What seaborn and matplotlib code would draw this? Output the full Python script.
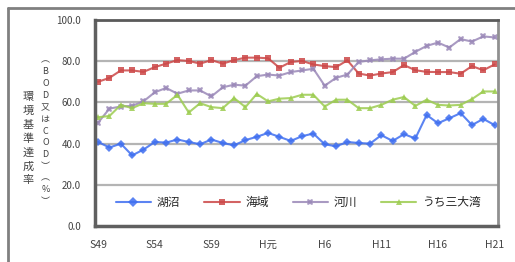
import numpy as np
import pandas as pd
import matplotlib
matplotlib.use("Agg")
import matplotlib.pyplot as plt
import seaborn as sns
from matplotlib.lines import Line2D

# ── Data (環境基準達成率, S49–H21) ────────────────────────────────────────────
years = ["S49", "S50", "S51", "S52", "S53", "S54", "S55", "S56", "S57", "S58",
         "S59", "S60", "S61", "S62", "S63", "H元", "H2", "H3", "H4", "H5",
         "H6", "H7", "H8", "H9", "H10", "H11", "H12", "H13", "H14", "H15",
         "H16", "H17", "H18", "H19", "H20", "H21"]
tick_labels = ["S49", "S54", "S59", "H元", "H6", "H11", "H16", "H21"]

lakes = [40.8, 38.1, 40.0, 34.3, 37.1, 40.8, 40.5, 42.0, 40.8, 39.7,
         42.0, 40.3, 39.2, 41.7, 43.3, 45.2, 43.3, 41.3, 43.6, 44.9,
         39.7, 38.7, 40.8, 40.3, 40.0, 44.1, 41.3, 44.6, 42.5, 53.9,
         49.9, 52.3, 54.8, 49.0, 52.0, 49.0]
sea = [70.0, 71.9, 75.5, 75.5, 74.8, 77.1, 78.8, 80.5, 80.1, 78.8,
       80.5, 78.8, 80.5, 81.7, 81.7, 81.4, 76.8, 79.6, 80.1, 78.4,
       77.6, 77.1, 80.4, 74.0, 73.0, 74.0, 74.7, 78.1, 75.6, 74.8,
       74.7, 74.7, 73.9, 77.6, 75.6, 78.4]
rivers = [50.2, 57.0, 58.0, 58.3, 60.5, 64.9, 67.0, 64.2, 65.8, 65.8,
          62.9, 67.3, 68.6, 68.1, 72.7, 73.5, 73.0, 74.7, 75.5, 76.3,
          68.1, 71.9, 73.5, 79.6, 80.4, 80.9, 81.2, 81.2, 84.5, 87.4,
          89.0, 86.6, 90.7, 89.5, 92.0, 91.5]
bays = [52.8, 53.4, 58.8, 57.2, 59.6, 59.3, 59.3, 63.7, 55.1, 59.6,
        57.7, 57.2, 62.1, 57.7, 64.1, 60.5, 61.8, 62.1, 63.7, 63.7,
        58.0, 61.3, 61.3, 57.2, 57.2, 58.8, 61.3, 62.6, 58.3, 61.3,
        58.8, 58.5, 58.8, 61.6, 65.3, 65.3]

series_names = ["湖沼", "海域", "河川", "うち三大湾"]
colors = {"湖沼": "#3f6ff0", "海域": "#cc4848", "河川": "#9a88b8", "うち三大湾": "#9ccc50"}
markers = {"湖沼": "D", "海域": "s", "河川": "X", "うち三大湾": "^"}

df = pd.DataFrame({"idx": np.arange(len(years)), "湖沼": lakes, "海域": sea,
                   "河川": rivers, "うち三大湾": bays})
long_df = df.melt(id_vars="idx", var_name="series", value_name="rate")

# ── Plot ──────────────────────────────────────────────────────────────────────
sns.set_style("white")
plt.rcParams["font.family"] = ["Noto Sans CJK JP", "DejaVu Sans"]

fig = plt.figure(figsize=(5.15, 2.62), dpi=100)
ax = fig.add_axes([0.184, 0.137, 0.783, 0.787])

sns.lineplot(data=long_df, x="idx", y="rate", hue="series", style="series",
             hue_order=series_names, style_order=series_names,
             palette=colors, markers=markers, dashes=False,
             linewidth=1.5, markersize=4.5, markeredgewidth=0, ax=ax, legend=False)
for ln in ax.get_lines():
    ln.set_alpha(0.85)

ax.set_xlim(-0.3, len(years) - 0.7)
ax.set_ylim(0, 100)
ax.set_yticks([0, 20, 40, 60, 80, 100])
ax.set_yticklabels([f"{v:.1f}" for v in [0, 20, 40, 60, 80, 100]], fontsize=7, color="#444444")
ax.set_xticks(np.arange(len(years)))
ax.set_xticklabels([y if y in tick_labels else "" for y in years], fontsize=7.5, color="#444444")
ax.tick_params(axis="x", length=2, width=2, color="#666666", pad=8)
ax.tick_params(axis="y", length=2, width=1, color="#666666", pad=8)
ax.set_xlabel("")
ax.set_ylabel("")

for v in [20, 40, 60, 80]:
    ax.axhline(v, color="#b4b4b4", linewidth=1.6, zorder=0)

ax.spines["left"].set_color("#606060")
ax.spines["left"].set_linewidth(2.5)
ax.spines["bottom"].set_color("#606060")
ax.spines["bottom"].set_linewidth(2.5)
ax.spines["top"].set_color("#5a5a5a")
ax.spines["top"].set_linewidth(2)
ax.spines["right"].set_color("#909090")
ax.spines["right"].set_linewidth(2)

# legend inside the plot
handles = [Line2D([], [], color=colors[s], marker=markers[s], markersize=5,
                  markeredgewidth=0, linewidth=1.5, alpha=0.85) for s in series_names]
ax.legend(handles, series_names, loc="center", bbox_to_anchor=(0.505, 0.115),
          ncol=4, frameon=False, fontsize=8.5, handlelength=3.0,
          columnspacing=2.0, handletextpad=0.5)

# vertical y-axis title (stacked characters)
fig.text(0.055, 0.47, "\n".join("環境基準達成率"), ha="center", va="center",
         fontsize=8, linespacing=1.45, color="#444444")
fig.text(0.088, 0.50, "\n".join("︵BOD又はCOD︶︵%︶"), ha="center", va="center",
         fontsize=6.5, linespacing=1.4, color="#444444")

# outer chart frame
fig.add_artist(Line2D([0.016, 1.0], [0.968, 0.968], color="#808080", linewidth=2))
fig.add_artist(Line2D([0.016, 0.016], [0.0, 0.968], color="#808080", linewidth=2))

plt.savefig("out.png", dpi=100)
plt.close()
